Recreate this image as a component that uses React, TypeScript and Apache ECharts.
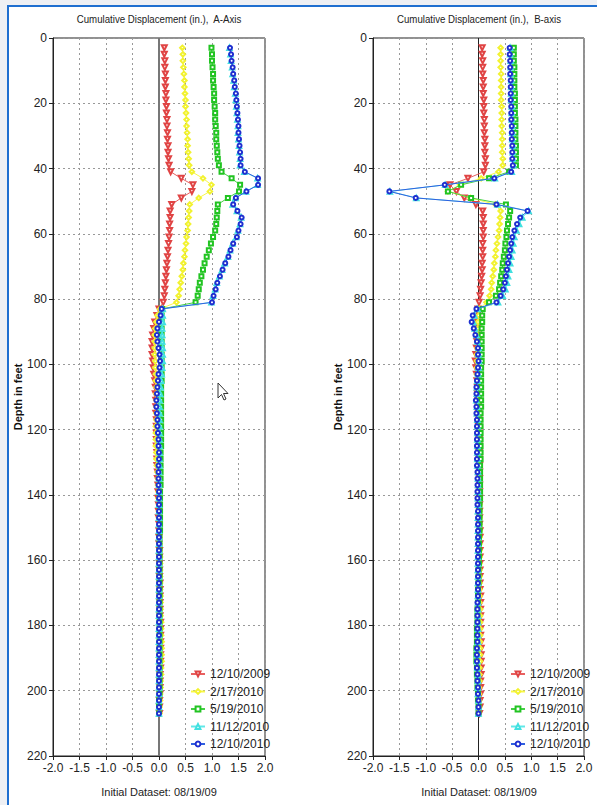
import React, { useEffect, useRef } from "react";
import * as echarts from "echarts";

const depths = [
  3, 5, 7, 9, 11, 13, 15, 17, 19, 21,
  23, 25, 27, 29, 31, 33, 35, 37, 39, 41,
  43, 45, 47, 49, 51, 53, 55, 57, 59, 61,
  63, 65, 67, 69, 71, 73, 75, 77, 79, 81,
  83, 85, 87, 89, 91, 93, 95, 97, 99, 101,
  103, 105, 107, 109, 111, 113, 115, 117, 119, 121,
  123, 125, 127, 129, 131, 133, 135, 137, 139, 141,
  143, 145, 147, 149, 151, 153, 155, 157, 159, 161,
  163, 165, 167, 169, 171, 173, 175, 177, 179, 181,
  183, 185, 187, 189, 191, 193, 195, 197, 199, 201,
  203, 205, 207,
];

const seriesNames = ["12/10/2009", "2/17/2010", "5/19/2010", "11/12/2010", "12/10/2010"];
const xTicks = [-2, -1.5, -1, -0.5, 0, 0.5, 1, 1.5, 2];

// ---------- A-Axis ----------
const redA = [
  0.10, 0.10, 0.11, 0.11, 0.12, 0.12, 0.12, 0.13, 0.13, 0.14,
  0.14, 0.15, 0.15, 0.16, 0.16, 0.17, 0.17, 0.18, 0.19, 0.22,
  0.42, 0.64, 0.62, 0.42, 0.24, 0.21, 0.21, 0.20, 0.20, 0.19,
  0.18, 0.17, 0.16, 0.15, 0.14, 0.13, 0.12, 0.11, 0.10, 0.08,
  0.00, -0.04, -0.08, -0.10, -0.12, -0.13, -0.13, -0.13, -0.12, -0.11,
  -0.10, -0.08, -0.07, -0.07, -0.06, -0.06, -0.06, -0.05, -0.05, -0.05,
  -0.05, -0.05, -0.04, -0.04, -0.04, -0.03, -0.03, -0.02, -0.02, -0.02,
  -0.01, -0.01, -0.01, 0.00, 0.00, 0.00, 0.00, 0.01, 0.01, 0.01,
  0.01, 0.01, 0.02, 0.02, 0.02, 0.02, 0.02, 0.02, 0.03, 0.03,
  0.03, 0.03, 0.03, 0.03, 0.03, 0.03, 0.02, 0.02, 0.02, 0.02,
  0.01, 0.01, 0.01,
];
const yellowA = [
  0.44, 0.45, 0.45, 0.46, 0.47, 0.48, 0.48, 0.49, 0.50, 0.50,
  0.51, 0.52, 0.52, 0.53, 0.54, 0.54, 0.55, 0.56, 0.57, 0.62,
  0.83, 0.99, 0.96, 0.75, 0.58, 0.57, 0.56, 0.55, 0.54, 0.52,
  0.51, 0.49, 0.48, 0.46, 0.45, 0.43, 0.41, 0.39, 0.37, 0.33,
  0.02, -0.03, -0.05, -0.07, -0.08, -0.08, -0.08, -0.08, -0.07, -0.07,
  -0.06, -0.06, -0.05, -0.05, -0.05, -0.05, -0.05, -0.05, -0.06, -0.06,
  -0.06, -0.06, -0.05, -0.05, -0.04, -0.03, -0.02, -0.02, -0.01, -0.01,
  0.00, 0.00, 0.00, 0.01, 0.01, 0.01, 0.01, 0.01, 0.02, 0.02,
  0.02, 0.02, 0.02, 0.02, 0.03, 0.03, 0.03, 0.03, 0.04, 0.04,
  0.04, 0.05, 0.05, 0.05, 0.05, 0.04, 0.04, 0.03, 0.03, 0.02,
  0.02, 0.01, 0.01,
];
const greenA = [
  0.99, 1.00, 1.00, 1.01, 1.02, 1.02, 1.03, 1.04, 1.04, 1.05,
  1.06, 1.06, 1.07, 1.08, 1.08, 1.09, 1.10, 1.11, 1.13, 1.18,
  1.37, 1.53, 1.51, 1.30, 1.11, 1.10, 1.09, 1.08, 1.06, 1.02,
  0.98, 0.94, 0.90, 0.86, 0.83, 0.80, 0.77, 0.75, 0.73, 0.69,
  0.06, 0.05, 0.05, 0.05, 0.05, 0.05, 0.05, 0.05, 0.05, 0.05,
  0.05, 0.05, 0.04, 0.04, 0.04, 0.04, 0.04, 0.04, 0.04, 0.04,
  0.04, 0.04, 0.03, 0.03, 0.03, 0.03, 0.03, 0.03, 0.02, 0.02,
  0.02, 0.02, 0.02, 0.02, 0.02, 0.01, 0.01, 0.01, 0.01, 0.01,
  0.01, 0.01, 0.01, 0.01, 0.01, 0.01, 0.01, 0.01, 0.01, 0.01,
  0.01, 0.01, 0.01, 0.01, 0.01, 0.01, 0.01, 0.01, 0.01, 0.01,
  0.00, 0.00, 0.00,
];
const cyanA = [
  1.33, 1.35, 1.36, 1.38, 1.39, 1.41, 1.42, 1.44, 1.45, 1.46,
  1.47, 1.48, 1.49, 1.49, 1.50, 1.51, 1.52, 1.53, 1.53, 1.61,
  1.86, 1.86, 1.64, 1.44, 1.39, 1.47, 1.55, 1.53, 1.49, 1.46,
  1.39, 1.34, 1.30, 1.24, 1.19, 1.14, 1.09, 1.06, 1.02, 0.99,
  0.07, 0.07, 0.07, 0.06, 0.06, 0.06, 0.07, 0.07, 0.07, 0.06,
  0.05, 0.04, 0.03, 0.02, 0.01, 0.01, 0.01, 0.01, 0.01, 0.01,
  0.01, 0.01, 0.01, 0.01, 0.01, 0.00, 0.00, 0.00, 0.00, 0.00,
  0.00, 0.00, 0.00, 0.00, 0.00, 0.00, 0.00, 0.00, 0.00, 0.00,
  0.00, 0.00, 0.00, 0.00, 0.00, 0.00, 0.00, 0.00, 0.00, 0.00,
  0.00, 0.00, 0.00, 0.00, 0.00, 0.00, 0.00, 0.00, 0.00, 0.00,
  0.00, 0.00, 0.00,
];
const blueA = [
  1.34, 1.36, 1.37, 1.39, 1.40, 1.42, 1.43, 1.45, 1.46, 1.47,
  1.48, 1.49, 1.50, 1.50, 1.51, 1.52, 1.53, 1.54, 1.54, 1.62,
  1.87, 1.87, 1.65, 1.45, 1.40, 1.48, 1.56, 1.54, 1.50, 1.47,
  1.40, 1.35, 1.31, 1.25, 1.20, 1.15, 1.10, 1.07, 1.03, 1.00,
  0.05, 0.03, 0.00, -0.03, -0.04, -0.03, -0.01, 0.01, 0.02, 0.01,
  -0.01, -0.02, -0.03, -0.04, -0.05, -0.05, -0.04, -0.03, -0.03, -0.02,
  -0.01, -0.01, 0.00, 0.00, -0.01, -0.01, -0.01, -0.01, 0.00, 0.00,
  0.00, 0.00, 0.00, 0.00, 0.00, 0.00, 0.00, 0.00, 0.00, 0.00,
  0.00, 0.00, 0.00, 0.00, 0.00, 0.00, 0.00, 0.00, 0.00, 0.00,
  0.00, 0.00, 0.00, 0.00, 0.00, 0.00, 0.00, 0.00, 0.00, 0.00,
  0.00, 0.00, 0.00,
];

// ---------- B-axis ----------
const redB = [
  0.07, 0.07, 0.08, 0.08, 0.08, 0.09, 0.09, 0.09, 0.10, 0.10,
  0.10, 0.11, 0.11, 0.11, 0.12, 0.12, 0.12, 0.13, 0.13, 0.10,
  -0.20, -0.54, -0.42, -0.27, -0.05, 0.08, 0.09, 0.09, 0.09, 0.09,
  0.08, 0.08, 0.08, 0.07, 0.07, 0.06, 0.05, 0.04, 0.03, 0.01,
  -0.01, -0.02, -0.02, -0.03, -0.03, -0.03, -0.04, -0.05, -0.06, -0.05,
  -0.04, -0.03, -0.02, -0.02, -0.01, -0.01, 0.00, 0.00, 0.00, 0.01,
  0.01, 0.01, 0.01, 0.01, 0.02, 0.02, 0.02, 0.02, 0.02, 0.02,
  0.02, 0.02, 0.02, 0.02, 0.03, 0.03, 0.03, 0.03, 0.03, 0.03,
  0.03, 0.03, 0.03, 0.03, 0.04, 0.04, 0.04, 0.04, 0.04, 0.04,
  0.04, 0.05, 0.05, 0.05, 0.05, 0.05, 0.05, 0.04, 0.04, 0.04,
  0.03, 0.03, 0.02,
];
const yellowB = [
  0.42, 0.42, 0.42, 0.42, 0.43, 0.43, 0.43, 0.43, 0.43, 0.44,
  0.44, 0.44, 0.44, 0.45, 0.45, 0.45, 0.45, 0.46, 0.46, 0.38,
  0.05, -0.35, -0.58, -0.15, 0.32, 0.42, 0.41, 0.40, 0.39, 0.37,
  0.35, 0.33, 0.32, 0.30, 0.29, 0.27, 0.25, 0.24, 0.21, 0.15,
  0.02, 0.00, -0.01, -0.01, -0.02, -0.02, -0.02, -0.03, -0.03, -0.03,
  -0.03, -0.02, -0.02, -0.02, -0.01, -0.01, -0.01, 0.00, 0.00, 0.00,
  0.00, 0.01, 0.01, 0.01, 0.01, 0.01, 0.01, 0.01, 0.02, 0.02,
  0.02, 0.02, 0.02, 0.02, 0.02, 0.02, 0.02, 0.02, 0.02, 0.02,
  0.02, 0.02, 0.02, 0.02, 0.02, 0.02, 0.03, 0.03, 0.03, 0.03,
  0.03, 0.03, 0.03, 0.03, 0.03, 0.02, 0.02, 0.02, 0.01, 0.01,
  0.01, 0.01, 0.00,
];
const greenB = [
  0.67, 0.67, 0.67, 0.68, 0.68, 0.68, 0.68, 0.69, 0.69, 0.69,
  0.69, 0.70, 0.70, 0.70, 0.70, 0.71, 0.71, 0.71, 0.71, 0.58,
  0.20, -0.33, -0.58, -0.14, 0.52, 0.60, 0.58, 0.56, 0.54, 0.53,
  0.51, 0.50, 0.48, 0.46, 0.45, 0.43, 0.41, 0.39, 0.33, 0.20,
  0.08, 0.07, 0.07, 0.06, 0.06, 0.06, 0.06, 0.06, 0.06, 0.05,
  0.05, 0.05, 0.05, 0.05, 0.05, 0.05, 0.04, 0.04, 0.04, 0.04,
  0.04, 0.04, 0.04, 0.04, 0.03, 0.03, 0.03, 0.03, 0.03, 0.03,
  0.02, 0.02, 0.02, 0.02, 0.02, 0.01, 0.01, 0.01, 0.01, 0.01,
  0.00, 0.00, 0.00, -0.01, -0.01, -0.01, -0.02, -0.02, -0.02, -0.03,
  -0.03, -0.03, -0.04, -0.04, -0.04, -0.03, -0.03, -0.02, -0.02, -0.01,
  -0.01, 0.00, 0.00,
];
const cyanB = [
  0.60, 0.60, 0.61, 0.61, 0.61, 0.62, 0.62, 0.62, 0.62, 0.63,
  0.63, 0.63, 0.64, 0.64, 0.64, 0.65, 0.65, 0.65, 0.66, 0.63,
  0.31, -0.63, -1.68, -1.18, 0.36, 0.95, 0.83, 0.77, 0.72, 0.68,
  0.66, 0.64, 0.62, 0.60, 0.58, 0.56, 0.54, 0.51, 0.46, 0.37,
  -0.02, -0.08, -0.10, -0.07, -0.04, -0.02, 0.00, 0.00, 0.01, 0.00,
  -0.01, -0.02, -0.03, -0.03, -0.04, -0.03, -0.03, -0.02, -0.02, -0.02,
  -0.02, -0.02, -0.02, -0.02, -0.02, -0.01, -0.01, -0.01, -0.01, -0.01,
  -0.01, -0.01, -0.01, -0.01, -0.01, -0.01, -0.01, -0.01, -0.01, -0.01,
  -0.01, -0.01, -0.01, -0.01, -0.01, -0.01, -0.01, -0.01, -0.01, -0.01,
  -0.01, -0.01, -0.02, -0.02, -0.02, -0.02, -0.01, -0.01, -0.01, -0.01,
  0.00, 0.00, 0.00,
];
const blueB = [
  0.59, 0.59, 0.60, 0.60, 0.60, 0.61, 0.61, 0.61, 0.61, 0.62,
  0.62, 0.62, 0.63, 0.63, 0.63, 0.64, 0.64, 0.64, 0.65, 0.62,
  0.30, -0.64, -1.69, -1.19, 0.34, 0.93, 0.79, 0.73, 0.68, 0.64,
  0.62, 0.60, 0.58, 0.56, 0.54, 0.52, 0.50, 0.47, 0.42, 0.34,
  -0.04, -0.11, -0.13, -0.09, -0.06, -0.03, -0.01, -0.01, 0.00, -0.01,
  -0.02, -0.03, -0.04, -0.04, -0.05, -0.04, -0.04, -0.03, -0.03, -0.03,
  -0.03, -0.03, -0.03, -0.03, -0.03, -0.02, -0.02, -0.02, -0.02, -0.02,
  -0.02, -0.01, -0.01, -0.01, -0.01, -0.01, -0.01, -0.01, -0.01, -0.01,
  -0.01, -0.01, -0.01, -0.01, -0.01, -0.02, -0.02, -0.02, -0.02, -0.02,
  -0.02, -0.02, -0.03, -0.03, -0.03, -0.03, -0.02, -0.02, -0.01, -0.01,
  0.00, 0.00, 0.00,
];

const FONT = "'Liberation Sans', Arial, sans-serif";

const styles = [
  { symbol: "emptyTriangle", rotate: 180, item: "#e04444", line: "#e86060", size: 5, bw: 0.8 },
  { symbol: "emptyDiamond", rotate: 0, item: "#f2f230", line: "#f8f848", size: 4.5, bw: 0.8 },
  { symbol: "emptyRect", rotate: 0, item: "#22c422", line: "#44d044", size: 4, bw: 1 },
  { symbol: "emptyTriangle", rotate: 0, item: "#40e0e0", line: "#60e8e8", size: 4.5, bw: 0.8 },
  { symbol: "emptyCircle", rotate: 0, item: "#1f2fd0", line: "#3060e0", size: 4, bw: 1 },
];

function pairs(vals: number[]) {
  return vals.map((v, i) => [v, depths[i]]);
}

function makeSeries(grid: number, sets: number[][], zeroColor: string, zeroWidth: number) {
  return sets.map((vals, k) => {
    const st = styles[k];
    const s: any = {
      type: "line",
      name: seriesNames[k],
      xAxisIndex: grid,
      yAxisIndex: grid,
      data: pairs(vals),
      symbol: st.symbol,
      symbolRotate: st.rotate,
      symbolSize: st.size,
      showSymbol: true,
      lineStyle: { color: st.line, width: 1 },
      itemStyle: { color: st.item, borderWidth: st.bw },
      emphasis: { disabled: true },
      silent: true,
      clip: false,
      z: 3 + k,
    };
    if (k === 0) {
      s.markLine = {
        silent: true,
        symbol: ["none", "none"],
        label: { show: false },
        lineStyle: { color: zeroColor, width: zeroWidth, type: "solid" },
        data: [{ xAxis: 0 }],
        z: 1,
      };
    }
    return s;
  });
}

function makeX(grid: number) {
  return {
    gridIndex: grid,
    type: "value",
    min: xTicks[0],
    max: xTicks[xTicks.length - 1],
    interval: 0.5,
    axisLine: { show: true, onZero: false, lineStyle: { color: "#222", width: 1 } },
    axisTick: { show: true, length: 4, lineStyle: { color: "#222" } },
    axisLabel: {
      formatter: (v: number) => v.toFixed(1),
      fontSize: 12,
      color: "#222",
      margin: 6,
      fontFamily: FONT,
    },
    splitLine: { show: true, lineStyle: { color: "#999", type: [2, 3], width: 1 } },
  };
}

function makeY(grid: number) {
  return {
    gridIndex: grid,
    type: "value",
    inverse: true,
    min: 0,
    max: 220,
    interval: 20,
    name: "Depth in feet",
    nameLocation: "middle",
    nameGap: 30,
    nameTextStyle: { fontWeight: "bold", fontSize: 11, color: "#111", fontFamily: FONT },
    axisLine: { show: true, onZero: false, lineStyle: { color: "#222", width: 1 } },
    axisTick: { show: true, length: 4, lineStyle: { color: "#222" } },
    axisLabel: { fontSize: 12, color: "#222", margin: 6, fontFamily: FONT },
    splitLine: { show: true, lineStyle: { color: "#999", type: [2, 3], width: 1 } },
  };
}

function makeLegend(left: number) {
  return {
    data: seriesNames,
    orient: "vertical",
    left,
    top: 668,
    itemWidth: 14,
    itemHeight: 6,
    itemGap: 5.5,
    selectedMode: false,
    textStyle: { fontSize: 12, color: "#222", fontFamily: FONT, lineHeight: 12 },
    padding: 0,
  };
}

function text(x: number, y: number, t: string, size: number, scaleX = 1) {
  return {
    type: "text",
    x,
    y,
    scaleX,
    style: {
      text: t,
      fontSize: size,
      fontFamily: FONT,
      fill: "#222",
      align: "center",
      verticalAlign: "middle",
    },
    silent: true,
  };
}

export default function App() {
  const ref = useRef<HTMLDivElement>(null);
  useEffect(() => {
    document.body.style.margin = "0";
    if (!ref.current) return;
    const chart = echarts.init(ref.current, undefined, { renderer: "svg" });
    const option: any = {
      animation: false,
      backgroundColor: "#ffffff",
      grid: [
        { left: 53, top: 38, width: 212, height: 718, show: true, borderColor: "#222", borderWidth: 1, backgroundColor: "transparent" },
        { left: 373, top: 38, width: 211, height: 718, show: true, borderColor: "#222", borderWidth: 1, backgroundColor: "transparent" },
      ],
      xAxis: [makeX(0), makeX(1)],
      yAxis: [makeY(0), makeY(1)],
      legend: [makeLegend(190), makeLegend(510)],
      series: [
        ...makeSeries(0, [redA, yellowA, greenA, cyanA, blueA], "#777", 2),
        ...makeSeries(1, [redB, yellowB, greenB, cyanB, blueB], "#222", 1),
      ],
      graphic: [
        { type: "rect", shape: { x: 0, y: 0, width: 597, height: 5 }, style: { fill: "#eef0f4" }, silent: true },
        { type: "rect", shape: { x: 0, y: 0, width: 7, height: 805 }, style: { fill: "#eef0f4" }, silent: true },
        { type: "rect", shape: { x: 7, y: 5, width: 590, height: 2 }, style: { fill: "#1f6fd0" }, silent: true },
        { type: "rect", shape: { x: 7, y: 5, width: 2, height: 800 }, style: { fill: "#1f6fd0" }, silent: true },
        text(159, 19, "Cumulative Displacement (in.),  A-Axis", 11, 0.88),
        text(479, 19, "Cumulative Displacement (in.),  B-axis", 11, 0.88),
        text(159, 792, "Initial Dataset: 08/19/09", 11),
        text(479, 792, "Initial Dataset: 08/19/09", 11),
        {
          type: "polygon",
          shape: {
            points: [
              [218, 383], [218, 398], [221.5, 394.5], [224, 400], [226, 399], [223.5, 393.5], [228, 393.5],
            ],
          },
          style: { fill: "#ffffff", stroke: "#333", lineWidth: 1 },
          silent: true,
          z: 100,
        },
      ],
    };
    chart.setOption(option);
    return () => chart.dispose();
  }, []);
  return (
    <div
      ref={ref}
      style={{ position: "absolute", left: 0, top: 0, width: 597, height: 805 }}
    />
  );
}
